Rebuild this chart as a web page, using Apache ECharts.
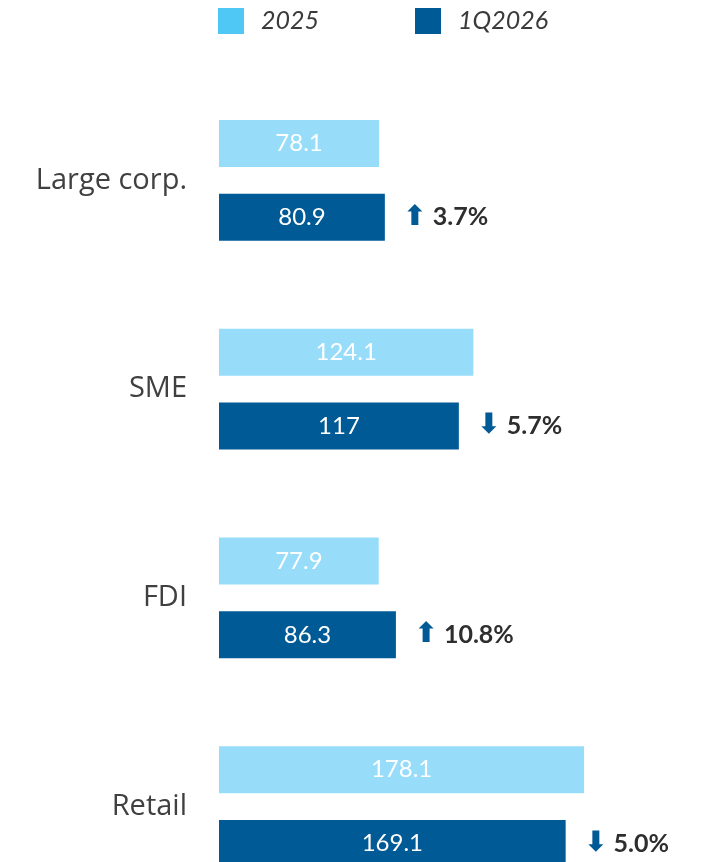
<!DOCTYPE html>
<html>
<head>
<meta charset="utf-8">
<script src="https://cdn.jsdelivr.net/npm/echarts@6/dist/echarts.min.js"></script>
<style>
  html, body { margin: 0; padding: 0; background: #fff; }
  #chart { width: 705px; height: 862px; }
</style>
</head>
<body>
<div id="chart"></div>
<script>
// data
var categories = ['Large corp.', 'SME', 'FDI', 'Retail'];
var values2025 = [78.1, 124.1, 77.9, 178.1];
var values1Q2026 = [80.9, 117, 86.3, 169.1];
var changeDir = ['up', 'down', 'up', 'down'];
var changeText = ['3.7%', '5.7%', '10.8%', '5.0%'];

var myChart = echarts.init(document.getElementById('chart'));

var changePoints = values1Q2026.map(function (v, i) {
  return [v, categories[i]];
});

var option = {
  animation: false,
  legend: {
    left: 213,
    top: 3,
    itemWidth: 26,
    itemHeight: 26,
    itemGap: 96,
    icon: 'rect',
    data: [
      { name: '2025', itemStyle: { color: '#4fc8f5' } },
      { name: '1Q2026', itemStyle: { color: '#005a96' } }
    ],
    textStyle: {
      fontFamily: 'Lato',
      fontStyle: 'italic',
      fontSize: 25,
      color: '#3a3a3a',
      padding: [0, 0, 0, 12]
    }
  },
  grid: {
    left: 219,
    top: 76,
    width: 410,
    height: 835,
    containLabel: false,
    outerBoundsMode: 'none'
  },
  xAxis: {
    type: 'value',
    min: 0,
    max: 200,
    show: false
  },
  yAxis: {
    type: 'category',
    inverse: true,
    data: categories,
    axisLine: { show: false },
    axisTick: { show: false },
    splitLine: { show: false },
    axisLabel: {
      margin: 32,
      fontFamily: 'Open Sans',
      fontSize: 29,
      color: '#404040',
      padding: [14, 0, 0, 0]
    }
  },
  series: [
    {
      name: '2025',
      type: 'bar',
      data: values2025,
      barWidth: 47,
      barGap: '57%',
      itemStyle: { color: '#97ddfa' },
      label: {
        show: true,
        position: 'inside',
        fontFamily: 'Lato',
        fontSize: 24,
        color: '#ffffff'
      }
    },
    {
      name: '1Q2026',
      type: 'bar',
      data: values1Q2026,
      barWidth: 47,
      barGap: '57%',
      itemStyle: { color: '#005a96' },
      label: {
        show: true,
        position: 'inside',
        fontFamily: 'Lato',
        fontSize: 24,
        color: '#ffffff'
      }
    },
    {
      // change labels next to the 1Q2026 bars
      name: 'change',
      type: 'scatter',
      data: changePoints,
      symbolSize: 1,
      itemStyle: { color: 'rgba(0,0,0,0)' },
      silent: true,
      label: {
        show: true,
        position: 'right',
        distance: 18,
        offset: [0, 37],
        opacity: 1,
        formatter: function (p) {
          var a = changeDir[p.dataIndex] === 'up' ? '⬆' : '⬇';
          return '{arr|' + a + '}{pct|' + changeText[p.dataIndex] + '}';
        },
        rich: {
          arr: {
            fontFamily: 'DejaVu Sans',
            fontWeight: 'bold',
            fontSize: 28,
            color: '#005a96',
            padding: [0, 6, 0, 0]
          },
          pct: {
            fontFamily: 'Lato',
            fontWeight: 'bold',
            fontSize: 25,
            color: '#2e2e2e'
          }
        }
      }
    }
  ]
};

myChart.setOption(option);
</script>
</body>
</html>
